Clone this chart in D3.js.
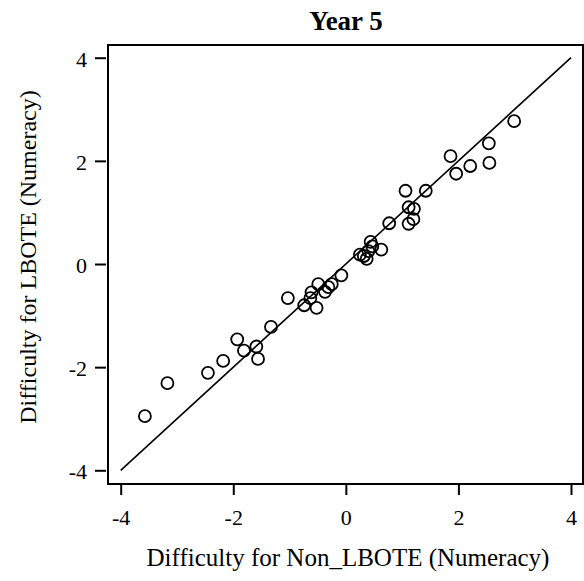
<!DOCTYPE html>
<html lang="en">
<head>
  <meta charset="UTF-8" />
  <title>Year 5 - LBOTE vs Non_LBOTE difficulty</title>
  <style>
    body { margin: 0; background: #fff; }
    svg { display: block; font-family: "Liberation Serif", "Times New Roman", serif; }
  </style>
</head>
<body>
  <svg id="chart"></svg>

  <script src="https://d3js.org/d3.v7.min.js"></script>
  <script>
    // item difficulties, Non_LBOTE (x) vs LBOTE (y)
    const nonLbote = [-3.57, -3.17, -2.45, -2.18, -1.93, -1.81, -1.59, -1.56, -1.33, -1.03,
      -0.74, -0.63, -0.61, -0.52, -0.49, -0.37, -0.31, -0.25, -0.08, 0.25,
      0.32, 0.37, 0.44, 0.47, 0.40, 0.63, 0.77, 1.06, 1.115, 1.21,
      1.20, 1.115, 1.42, 1.86, 1.96, 2.21, 2.54, 2.55, 2.99];
    const lbote = [-2.95, -2.31, -2.11, -1.88, -1.46, -1.68, -1.60, -1.84, -1.22, -0.66,
      -0.80, -0.66, -0.55, -0.85, -0.39, -0.54, -0.45, -0.39, -0.22, 0.18,
      0.155, 0.10, 0.43, 0.34, 0.25, 0.28, 0.79, 1.42, 1.10, 1.07,
      0.87, 0.78, 1.42, 2.09, 1.75, 1.90, 2.34, 1.96, 2.77];
    const ticks = [-4, -2, 0, 2, 4];
    const identityLine = [-4, 4];

    const W = 584, H = 581;
    const box = { left: 108, top: 45, right: 583, bottom: 484 };

    const svg = d3.select("#chart").attr("width", W).attr("height", H);

    const x = d3.scaleLinear().domain([-4, 4]).range([120.7, 571]);
    const y = d3.scaleLinear().domain([-4, 4]).range([470.3, 57.7]);

    // frame
    svg.append("rect")
      .attr("x", box.left).attr("y", box.top)
      .attr("width", box.right - box.left).attr("height", box.bottom - box.top)
      .attr("fill", "none").attr("stroke", "#000").attr("stroke-width", 2);

    const xAxis = svg.append("g")
      .attr("transform", `translate(0,${box.bottom + 1})`)
      .call(d3.axisBottom(x).tickValues(ticks).tickSize(10).tickPadding(14));
    const yAxis = svg.append("g")
      .attr("transform", `translate(${box.left - 2},0)`)
      .call(d3.axisLeft(y).tickValues(ticks).tickSize(11).tickPadding(8));

    [xAxis, yAxis].forEach(g => {
      g.attr("font-family", null).attr("font-size", 22);
      g.select(".domain").remove();
      g.selectAll(".tick line").attr("stroke", "#000").attr("stroke-width", 2);
      g.selectAll("text").attr("fill", "#000");
    });
    // hyphen like the original, not the unicode minus
    svg.selectAll(".tick text").text(d => String(d));
    yAxis.selectAll("text").attr("dy", "0.38em");

    // y = x reference line
    svg.append("line")
      .attr("x1", x(identityLine[0])).attr("y1", y(identityLine[0]))
      .attr("x2", x(identityLine[1])).attr("y2", y(identityLine[1]))
      .attr("stroke", "#000").attr("stroke-width", 1.6);

    svg.append("g").selectAll("circle")
      .data(nonLbote.map((v, i) => [v, lbote[i]]))
      .join("circle")
      .attr("cx", d => x(d[0]))
      .attr("cy", d => y(d[1]))
      .attr("r", 6)
      .attr("fill", "none")
      .attr("stroke", "#000")
      .attr("stroke-width", 1.8);

    svg.append("text")
      .attr("x", 346).attr("y", 30)
      .attr("text-anchor", "middle")
      .attr("font-size", 27).attr("font-weight", "bold")
      .text("Year 5");

    svg.append("text")
      .attr("x", 348).attr("y", 566)
      .attr("text-anchor", "middle")
      .attr("font-size", 25)
      .text("Difficulty for Non_LBOTE (Numeracy)");

    svg.append("text")
      .attr("transform", "translate(36,257) rotate(-90)")
      .attr("text-anchor", "middle")
      .attr("font-size", 24)
      .text("Difficulty for LBOTE (Numeracy)");
  </script>
</body>
</html>
